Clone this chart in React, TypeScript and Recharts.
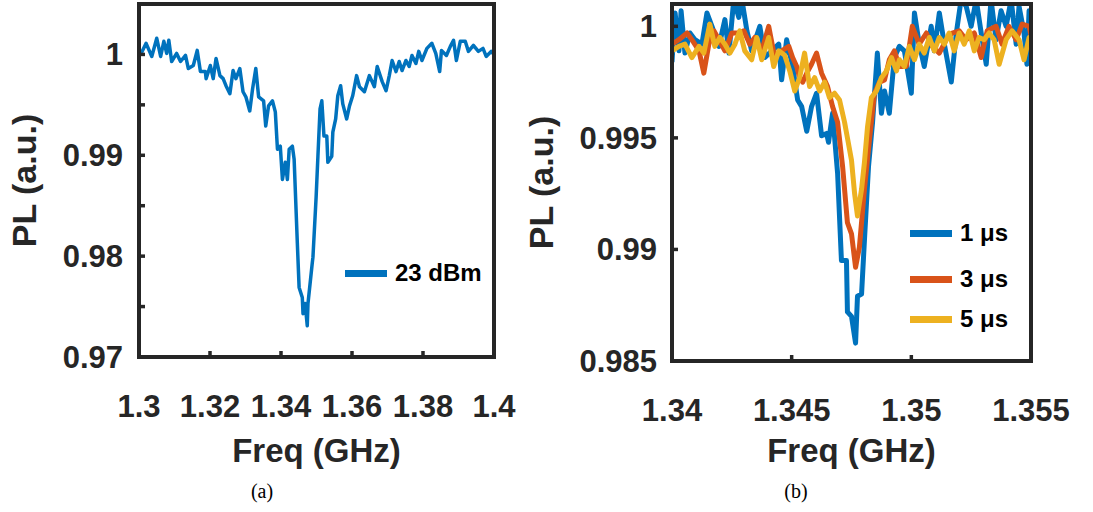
import { Label, Line, LineChart, XAxis, YAxis } from "recharts";

// panel (a): 23 dBm sweep
const freqA = [
  1.3, 1.3006, 1.302, 1.3036, 1.305, 1.3061, 1.307, 1.3078, 1.3084, 1.3092,
  1.3106, 1.3117, 1.3131, 1.3139, 1.3153, 1.3164, 1.3173, 1.3187, 1.3189, 1.3201,
  1.3209, 1.3217, 1.3228, 1.3237, 1.3245, 1.3256, 1.3265, 1.3273, 1.3284, 1.3293,
  1.3301, 1.3312, 1.332, 1.3329, 1.3337, 1.3351, 1.3357, 1.3365, 1.3376, 1.3384,
  1.339, 1.3398, 1.3404, 1.3412, 1.3418, 1.3423, 1.3432, 1.3437, 1.3446, 1.3451,
  1.346, 1.3462, 1.3468, 1.3474, 1.3476, 1.3488, 1.349, 1.3499, 1.3504, 1.351,
  1.3515, 1.3521, 1.3529, 1.3532, 1.3543, 1.3546, 1.3554, 1.356, 1.3568, 1.3574,
  1.3585, 1.3593, 1.3602, 1.3613, 1.3621, 1.3635, 1.3649, 1.3663, 1.3671, 1.3685,
  1.3696, 1.3705, 1.3713, 1.3724, 1.3733, 1.3741, 1.3752, 1.3761, 1.3769, 1.378,
  1.3788, 1.3797, 1.3811, 1.3825, 1.3836, 1.3847, 1.3852, 1.3866, 1.3877, 1.3886,
  1.3894, 1.3905, 1.3919, 1.3928, 1.3942, 1.3956, 1.3969, 1.3978, 1.3992, 1.4,
];
const plA = [
  1.0, 1.0001, 1.0011, 0.9998, 1.0016, 0.9998, 1.0013, 1.0001, 1.0014, 0.9993,
  1.0001, 0.9993, 0.9999, 0.9986, 0.9989, 1.0004, 0.9983, 0.9983, 0.9976, 0.9989,
  0.9976, 0.9996, 0.9979, 0.9976, 0.9969, 0.9961, 0.9984, 0.9976, 0.9986, 0.9963,
  0.9958, 0.9944, 0.9966, 0.9986, 0.9958, 0.9954, 0.9929, 0.9949, 0.9954, 0.9943,
  0.9906, 0.9909, 0.9876, 0.9893, 0.9876, 0.9906, 0.9909, 0.9896, 0.9813, 0.9769,
  0.9759, 0.9743, 0.9753, 0.9731, 0.9753, 0.9793, 0.9799, 0.9859, 0.9899, 0.9946,
  0.9954, 0.9919, 0.9919, 0.9893, 0.9899, 0.9923, 0.9936, 0.9959, 0.9969, 0.9951,
  0.9936, 0.9949, 0.9959, 0.9979, 0.9968, 0.9963, 0.9979, 0.9968, 0.9988, 0.9973,
  0.9964, 0.9979, 0.9994, 0.9983, 0.9993, 0.9984, 0.9994, 0.9988, 0.9999, 0.9991,
  1.0003, 0.9994, 1.0006, 1.0011, 1.0001, 0.9983, 1.0004, 0.9999, 1.0008, 1.0014,
  0.9994, 1.0013, 1.0013, 1.0003, 1.0009, 1.0003, 1.0006, 0.9998, 1.0003, 1.0,
];

// panel (b): pulse widths
const freq1 = [
  1.34, 1.34013, 1.34029, 1.34038, 1.34054, 1.34075, 1.34096, 1.34125, 1.34146, 1.34167,
  1.34196, 1.34221, 1.34238, 1.34258, 1.34279, 1.34292, 1.34313, 1.34333, 1.34367, 1.34388,
  1.34417, 1.34446, 1.34458, 1.34479, 1.34504, 1.34525, 1.34542, 1.34563, 1.34583, 1.34604,
  1.34625, 1.34646, 1.34654, 1.34671, 1.34692, 1.34708, 1.34729, 1.34733, 1.3475, 1.34767,
  1.34775, 1.34792, 1.34804, 1.34821, 1.34838, 1.34858, 1.34875, 1.34888, 1.34908, 1.34929,
  1.3495, 1.34971, 1.35, 1.35013, 1.35033, 1.35054, 1.35083, 1.35096, 1.35117, 1.35138,
  1.35167, 1.35188, 1.35208, 1.35229, 1.3525, 1.35271, 1.35292, 1.35313, 1.35333, 1.35354,
  1.35375, 1.35396, 1.35417, 1.35438, 1.3545, 1.35471, 1.35483, 1.35492, 1.355,
];
const pl1 = [
  0.9984, 1.0006, 0.9989, 1.0007, 0.9988, 0.9997, 0.9994, 0.9992, 1.0006, 1.0,
  0.9991, 1.0003, 0.9988, 1.0012, 1.0004, 1.0012, 0.9998, 0.9989, 1.0, 0.9986,
  0.9989, 0.9992, 0.9976, 0.9994, 0.9982, 0.9967, 0.9964, 0.9953, 0.9964, 0.997,
  0.9951, 0.9952, 0.9948, 0.9961, 0.9934, 0.9895, 0.9895, 0.9872, 0.987, 0.9858,
  0.9879, 0.988, 0.9904, 0.9937, 0.9957, 0.9988, 0.9961, 0.9971, 0.9961, 0.9986,
  0.9991, 0.9989, 0.997, 1.0006, 0.9992, 0.9982, 1.0, 0.9989, 1.0006, 0.9992,
  0.9975, 0.9997, 1.0012, 1.0009, 1.0, 1.0012, 0.9997, 0.9983, 1.0012, 0.9994,
  1.0007, 1.0, 1.0012, 0.9992, 1.0009, 0.9997, 0.9983, 1.0007, 1.0003,
];
const freq3 = [
  1.34, 1.34029, 1.34063, 1.34083, 1.34113, 1.34133, 1.34154, 1.34175, 1.34196, 1.34221,
  1.3425, 1.34279, 1.343, 1.34325, 1.34346, 1.34375, 1.34404, 1.34429, 1.34458, 1.34488,
  1.34504, 1.34521, 1.34533, 1.34546, 1.34563, 1.34583, 1.34604, 1.34625, 1.3465, 1.34671,
  1.34692, 1.34713, 1.34733, 1.3475, 1.34767, 1.34783, 1.34804, 1.34825, 1.34846, 1.34867,
  1.34888, 1.34908, 1.34929, 1.3495, 1.34979, 1.35004, 1.35033, 1.35063, 1.35088, 1.35117,
  1.35146, 1.35171, 1.352, 1.35229, 1.35263, 1.35292, 1.35317, 1.35354, 1.35379, 1.35408,
  1.35438, 1.35463, 1.35492, 1.355,
];
const pl3 = [
  0.9992, 0.9994, 0.9997, 0.9994, 0.9989, 0.9979, 0.9992, 0.9998, 0.9994, 0.9989,
  0.9997, 0.9997, 0.9998, 0.9992, 0.9995, 0.9989, 1.0, 0.9986, 0.9989, 0.9991,
  0.9986, 0.9982, 0.9977, 0.9975, 0.9979, 0.9983, 0.9988, 0.9979, 0.9973, 0.9964,
  0.9957, 0.9937, 0.9912, 0.9907, 0.9892, 0.9901, 0.9927, 0.9949, 0.997, 0.9975,
  0.9976, 0.9985, 0.9989, 0.9982, 0.9982, 1.0, 0.9992, 0.9997, 0.9991, 0.9988,
  0.9994, 0.9997, 0.9998, 0.9994, 0.9997, 0.9986, 0.9998, 1.0, 0.9992, 1.0,
  0.9994, 1.0001, 1.0, 0.9996,
];
const freq5 = [
  1.34, 1.34029, 1.34054, 1.34083, 1.34113, 1.34133, 1.34158, 1.34179, 1.342, 1.34221,
  1.34242, 1.34263, 1.34283, 1.34304, 1.34333, 1.34354, 1.34375, 1.34404, 1.34425, 1.34446,
  1.34471, 1.34492, 1.34513, 1.34533, 1.34554, 1.34575, 1.34596, 1.34617, 1.34638, 1.34658,
  1.34679, 1.347, 1.34721, 1.34733, 1.3475, 1.34763, 1.34775, 1.34792, 1.34804, 1.34817,
  1.34833, 1.34854, 1.34875, 1.34896, 1.34917, 1.34938, 1.3495, 1.34971, 1.34992, 1.35013,
  1.35033, 1.35054, 1.35075, 1.35096, 1.35117, 1.35138, 1.35158, 1.35179, 1.352, 1.35221,
  1.35242, 1.35263, 1.35283, 1.35304, 1.35325, 1.35346, 1.35367, 1.35396, 1.35421, 1.3545,
  1.35471, 1.35492, 1.355,
];
const pl5 = [
  0.9989, 0.9991, 0.9992, 0.9986, 0.9991, 0.9988, 1.0001, 0.9991, 0.9995, 0.9992,
  0.9988, 0.9992, 0.9998, 0.9989, 0.9985, 0.9995, 0.9985, 0.9995, 0.9982, 0.9989,
  0.9987, 0.998, 0.9971, 0.9977, 0.9988, 0.9973, 0.9977, 0.9971, 0.9975, 0.9968,
  0.997, 0.9967, 0.9957, 0.995, 0.994, 0.9925, 0.9915, 0.9927, 0.9939, 0.9955,
  0.9968, 0.9971, 0.9977, 0.998, 0.9986, 0.998, 0.9985, 0.9982, 0.9991, 0.9985,
  0.9992, 0.9988, 0.9995, 0.9989, 0.9995, 0.9992, 0.9997, 0.9989, 0.9997, 0.9992,
  0.9998, 0.9989, 0.9995, 0.9994, 0.9997, 0.9994, 0.9983, 0.9994, 0.9998, 0.9994,
  0.9985, 0.9995, 0.9995,
];

const xTicksA = [1.3, 1.32, 1.34, 1.36, 1.38, 1.4];
const xLabelsA = ["1.3", "1.32", "1.34", "1.36", "1.38", "1.4"];
const yTicksA = [0.97, 0.975, 0.98, 0.985, 0.99, 0.995, 1];
const yLabelsA = ["0.97", "", "0.98", "", "0.99", "", "1"];
const xTicksB = [1.34, 1.345, 1.35, 1.355];
const xLabelsB = ["1.34", "1.345", "1.35", "1.355"];
const yTicksB = [0.985, 0.99, 0.995, 1];
const yLabelsB = ["0.985", "0.99", "0.995", "1"];

const INK = "#262626";
const FONT = "'Liberation Sans', Arial, Helvetica, sans-serif";
const BLUE = "#0072BD";
const ORANGE = "#D95319";
const YELLOW = "#EDB120";

const zip = (fs: number[], vs: number[]) => fs.map((f, i) => ({ f, v: vs[i] }));

const seriesA = [{ name: "23 dBm", color: BLUE, data: zip(freqA, plA) }];
const seriesB = [
  { name: "1 μs", color: BLUE, data: zip(freq1, pl1) },
  { name: "3 μs", color: ORANGE, data: zip(freq3, pl3) },
  { name: "5 μs", color: YELLOW, data: zip(freq5, pl5) },
];

const frame = { stroke: INK, strokeWidth: 4, strokeLinecap: "square" as const };
const tickMark = { stroke: INK, strokeWidth: 3.5 };
const tickText = { fill: INK, fontSize: 31, fontWeight: 700, fontFamily: FONT };
const titleText = { fill: INK, fontSize: 33, fontWeight: 700, fontFamily: FONT };

const pick = (ticks: number[], labels: string[]) => (v: number) => labels[ticks.indexOf(v)] ?? "";

type Series = { name: string; color: string; data: { f: number; v: number }[] };

function Panel(props: {
  left: number;
  width: number;
  plotLeft: number;
  plotRight: number;
  plotBottom: number;
  xDomain: [number, number];
  yDomain: [number, number];
  xTicks: number[];
  xLabels: string[];
  yTicks: number[];
  yLabels: string[];
  series: Series[];
  lineWidth: number;
  yTickMargin: number;
  yTitleOffset: number;
}) {
  const p = props;
  const height = 512;
  const top = 3;
  const xAxisH = 467 - p.plotBottom;
  return (
    <div style={{ position: "absolute", left: p.left, top: 0 }}>
      <LineChart
        width={p.width}
        height={height}
        margin={{ top, right: p.width - p.plotRight, bottom: height - 467, left: 0 }}
      >
        <XAxis
          xAxisId="b"
          dataKey="f"
          type="number"
          domain={p.xDomain}
          allowDataOverflow
          ticks={p.xTicks}
          interval={0}
          tickFormatter={pick(p.xTicks, p.xLabels)}
          height={xAxisH}
          tickSize={-6}
          tickMargin={44}
          axisLine={frame}
          tickLine={tickMark}
          tick={tickText}
        >
          <Label value="Freq (GHz)" position="insideBottom" offset={5} style={titleText} />
        </XAxis>
        <XAxis
          xAxisId="t"
          orientation="top"
          dataKey="f"
          type="number"
          domain={p.xDomain}
          allowDataOverflow
          ticks={p.xTicks}
          interval={0}
          height={1}
          tickSize={-6}
          tick={false}
          axisLine={frame}
          tickLine={tickMark}
        />
        <YAxis
          yAxisId="l"
          type="number"
          domain={p.yDomain}
          allowDataOverflow
          ticks={p.yTicks}
          interval={0}
          tickFormatter={pick(p.yTicks, p.yLabels)}
          width={p.plotLeft}
          tickSize={-6}
          tickMargin={p.yTickMargin}
          axisLine={frame}
          tickLine={tickMark}
          tick={tickText}
        >
          <Label
            value="PL (a.u.)"
            angle={-90}
            position="insideLeft"
            offset={p.yTitleOffset}
            style={{ ...titleText, fontSize: 34, textAnchor: "middle" }}
          />
        </YAxis>
        <YAxis
          yAxisId="r"
          orientation="right"
          type="number"
          domain={p.yDomain}
          allowDataOverflow
          ticks={p.yTicks}
          interval={0}
          width={1}
          tickSize={-6}
          tick={false}
          axisLine={frame}
          tickLine={tickMark}
        />
        {/* invisible copy so the top and right frame axes have data behind them */}
        <Line
          xAxisId="t"
          yAxisId="r"
          data={p.series[0].data}
          dataKey="v"
          stroke="none"
          strokeWidth={0}
          dot={false}
          activeDot={false}
          legendType="none"
          isAnimationActive={false}
        />
        {p.series.map((s) => (
          <Line
            key={s.name}
            xAxisId="b"
            yAxisId="l"
            data={s.data}
            dataKey="v"
            name={s.name}
            type="linear"
            stroke={s.color}
            strokeWidth={p.lineWidth}
            strokeLinejoin="round"
            dot={false}
            isAnimationActive={false}
          />
        ))}
      </LineChart>
    </div>
  );
}

function LegendBox(props: { left: number; rows: number[]; series: Series[] }) {
  return (
    <>
      {props.series.map((s, i) => (
        <div
          key={s.name}
          style={{
            position: "absolute",
            left: props.left,
            top: props.rows[i] - 15,
            height: 30,
            display: "flex",
            alignItems: "center",
            fontFamily: FONT,
            fontWeight: 700,
            fontSize: 24,
            color: "#000",
            whiteSpace: "nowrap",
          }}
        >
          <div style={{ width: 42, height: 7, background: s.color, marginRight: 8 }} />
          <span>{s.name}</span>
        </div>
      ))}
    </>
  );
}

const caption = {
  position: "absolute" as const,
  top: 480,
  width: 60,
  textAlign: "center" as const,
  fontFamily: "'Liberation Serif', 'DejaVu Serif', serif",
  fontSize: 20,
  color: "#000",
};

export default function App() {
  return (
    <div style={{ position: "absolute", left: 0, top: 0, width: 1093, height: 512, background: "#fff" }}>
      <Panel
        left={0}
        width={520}
        plotLeft={139}
        plotRight={495}
        plotBottom={357}
        xDomain={[1.3, 1.4]}
        yDomain={[0.97, 1.005]}
        xTicks={xTicksA}
        xLabels={xLabelsA}
        yTicks={yTicksA}
        yLabels={yLabelsA}
        series={seriesA}
        lineWidth={3.5}
        yTickMargin={22}
        yTitleOffset={24}
      />
      <Panel
        left={520}
        width={573}
        plotLeft={152}
        plotRight={512}
        plotBottom={361}
        xDomain={[1.34, 1.355]}
        yDomain={[0.985, 1.001]}
        xTicks={xTicksB}
        xLabels={xLabelsB}
        yTicks={yTicksB}
        yLabels={yLabelsB}
        series={seriesB}
        lineWidth={5}
        yTickMargin={21}
        yTitleOffset={21}
      />
      <LegendBox left={345} rows={[273]} series={seriesA} />
      <LegendBox left={910} rows={[233, 279, 319]} series={seriesB} />
      <div style={{ ...caption, left: 232 }}>(a)</div>
      <div style={{ ...caption, left: 766 }}>(b)</div>
    </div>
  );
}
